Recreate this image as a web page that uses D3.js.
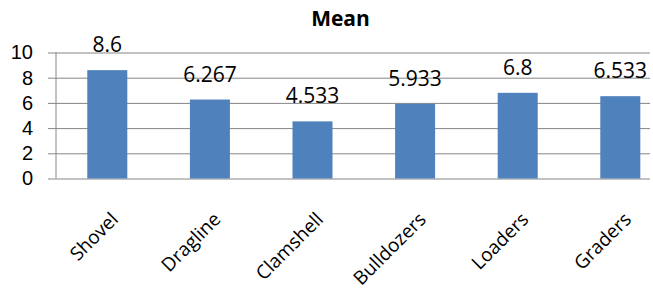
<!DOCTYPE html>
<html>
<head>
<meta charset="utf-8">
<script src="https://cdn.jsdelivr.net/npm/d3@7"></script>
<style>
	body{margin:0;background:#fff}
	svg{display:block}
</style>
</head>
<body>
<svg id="chart"></svg>
<script>
const categories = ['Shovel','Dragline','Clamshell','Bulldozers','Loaders','Graders']
const means = [8.6,6.267,4.533,5.933,6.8,6.533]
const meanLabels = ['8.6','6.267','4.533','5.933','6.8','6.533']
const yTicks = [0,2,4,6,8,10]

const wdth = 653
const hght = 293
const mrgn = {top:52.5,left:56,bottom:114.5}
const gridRight = 650

const svg = d3.select('#chart')
	.attr('width',wdth)
	.attr('height',hght)
	.attr('font-family','Open Sans')

const x = d3.scaleBand()
	.domain(categories)
	.range([mrgn.left, mrgn.left + 6 * 102.6])
	.paddingInner(0.61)
	.paddingOuter(0.305)

const y = d3.scaleLinear()
	.domain([0,10])
	.range([hght - mrgn.bottom, mrgn.top])

// title
svg.append('text')
	.attr('x',340.5)
	.attr('y',26)
	.attr('text-anchor','middle')
	.attr('font-weight','bold')
	.style('font-size','21px')
	.text('Mean')

// gridlines + y axis
const yAxis = svg.append('g')
	.attr('transform',`translate(${mrgn.left},0)`)
	.call(d3.axisLeft(y).tickValues(yTicks).tickSize(8).tickPadding(15))

yAxis.select('.domain').remove()
yAxis.selectAll('.tick line')
	.attr('stroke','#868686')
	.attr('x2',gridRight - mrgn.left)
	.attr('x1',-8)
yAxis.selectAll('.tick text')
	.attr('fill','#000')
	.style('font-size','20px')

svg.append('line')
	.attr('x1',mrgn.left).attr('x2',mrgn.left)
	.attr('y1',y(10)).attr('y2',y(0))
	.attr('stroke','#868686')

// bars
svg.selectAll('.bar')
	.data(means)
	.enter()
	.append('rect')
	.classed('bar',true)
	.attr('x',(d,i) => x(categories[i]))
	.attr('y',d => y(d))
	.attr('width',x.bandwidth())
	.attr('height',d => y(0) - y(d))
	.attr('fill','#4F81BD')

// data labels
svg.selectAll('.lbl')
	.data(means)
	.enter()
	.append('text')
	.classed('lbl',true)
	.attr('x',(d,i) => x(categories[i]) + x.bandwidth() / 2)
	.attr('y',d => y(d) - 18)
	.attr('text-anchor','middle')
	.style('font-size','21px')
	.text((d,i) => meanLabels[i])

// category labels
svg.selectAll('.cat')
	.data(categories)
	.enter()
	.append('text')
	.classed('cat',true)
	.attr('transform',d => `translate(${x(d) + x.bandwidth() / 2 + 12},${y(0) + 42}) rotate(-45)`)
	.attr('text-anchor','end')
	.style('font-size','19px')
	.text(d => d)
</script>
</body>
</html>
